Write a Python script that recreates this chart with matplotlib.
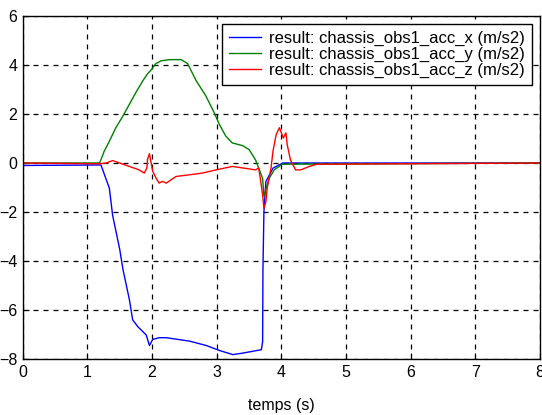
import matplotlib
matplotlib.use("Agg")
import matplotlib.pyplot as plt

plt.rcParams['font.family'] = ['Liberation Sans', 'DejaVu Sans']

t_x = [0.0, 1.21, 1.34, 1.39, 1.50, 1.55, 1.65, 1.70, 1.78, 1.91, 1.96, 2.01, 2.11, 2.22,
       2.58, 2.84, 3.04, 3.25, 3.40, 3.69, 3.71, 3.715, 3.73, 3.76, 3.87, 4.02, 8.0]
acc_x = [-0.1, -0.08, -1.03, -2.13, -3.52, -4.34, -5.58, -6.40, -6.68, -7.02, -7.45, -7.20,
         -7.13, -7.13, -7.27, -7.45, -7.65, -7.82, -7.76, -7.62, -7.30, -4.34, -2.0, -0.76,
         -0.21, 0.0, 0.0]

t_y = [0.0, 1.19, 1.26, 1.34, 1.44, 1.55, 1.65, 1.75, 1.86, 1.93, 1.98, 2.06, 2.14, 2.27,
       2.45, 2.55, 2.68, 2.83, 2.96, 3.04, 3.14, 3.24, 3.40, 3.50, 3.60, 3.65, 3.71, 3.73,
       3.81, 3.89, 4.01, 8.0]
acc_y = [0.0, 0.0, 0.48, 0.89, 1.44, 1.92, 2.40, 2.88, 3.37, 3.64, 3.78, 4.06, 4.17, 4.22,
         4.22, 4.06, 3.37, 2.75, 2.06, 1.58, 1.10, 0.82, 0.71, 0.55, 0.13, -0.21, -0.63,
         -1.35, -0.63, -0.28, -0.05, 0.0]

t_z = [0.0, 1.19, 1.29, 1.39, 1.50, 1.65, 1.80, 1.88, 1.92, 1.93, 1.96, 1.98, 2.01, 2.06,
       2.11, 2.16, 2.22, 2.37, 2.58, 2.78, 2.99, 3.24, 3.40, 3.60, 3.65, 3.71, 3.73, 3.76,
       3.78, 3.84, 3.87, 3.92, 3.97, 3.99, 4.03, 4.07, 4.09, 4.14, 4.22, 4.30, 4.43, 4.55,
       8.0]
acc_z = [0.0, -0.03, 0.0, 0.1, 0.0, -0.14, -0.28, -0.41, -0.2, 0.15, 0.38, 0.08, -0.33,
         -0.61, -0.82, -0.75, -0.82, -0.55, -0.48, -0.41, -0.28, -0.14, -0.2, -0.28, -0.2,
         -1.3, -1.85, -1.59, -1.04, -0.2, 0.48, 1.17, 1.44, 1.30, 1.02, 1.23, 0.75, 0.13,
         -0.28, -0.28, -0.14, -0.05, 0.0]

labels = ['result: chassis_obs1_acc_x (m/s2)',
          'result: chassis_obs1_acc_y (m/s2)',
          'result: chassis_obs1_acc_z (m/s2)']
x_ticks = [0, 1, 2, 3, 4, 5, 6, 7, 8]
y_ticks = [-8, -6, -4, -2, 0, 2, 4, 6]

fig = plt.figure(figsize=(5.42, 4.15), dpi=100)
ax = fig.add_axes([0.0419, 0.1349, 0.9545, 0.8265])

ax.plot(t_x, acc_x, color='#0000ff', lw=1.0, label=labels[0])
ax.plot(t_y, acc_y, color='#008000', lw=1.0, label=labels[1])
ax.plot(t_z, acc_z, color='#ff0000', lw=1.0, label=labels[2])

ax.set_xlim(0, 8)
ax.set_ylim(-8, 6)
ax.set_xticks(x_ticks)
ax.set_yticks(y_ticks)
ax.tick_params(direction='in', length=4, labelsize=11.5, pad=4, colors='black')
ax.grid(True, color='black', linestyle=(0, (4, 4)), linewidth=0.9)
for s in ax.spines.values():
    s.set_linewidth(1.0)
    s.set_color('black')

ax.set_xlabel('temps (s)', fontsize=11.5, labelpad=13)

leg = ax.legend(loc='upper right', bbox_to_anchor=(0.9845, 0.9767), fontsize=12,
                frameon=True, fancybox=False, edgecolor='black', framealpha=1,
                borderpad=0.42, labelspacing=0.05, handlelength=1.9,
                handletextpad=0.5, borderaxespad=0.0)
leg.get_frame().set_linewidth(1.0)

fig.savefig('out.png', dpi=100)
